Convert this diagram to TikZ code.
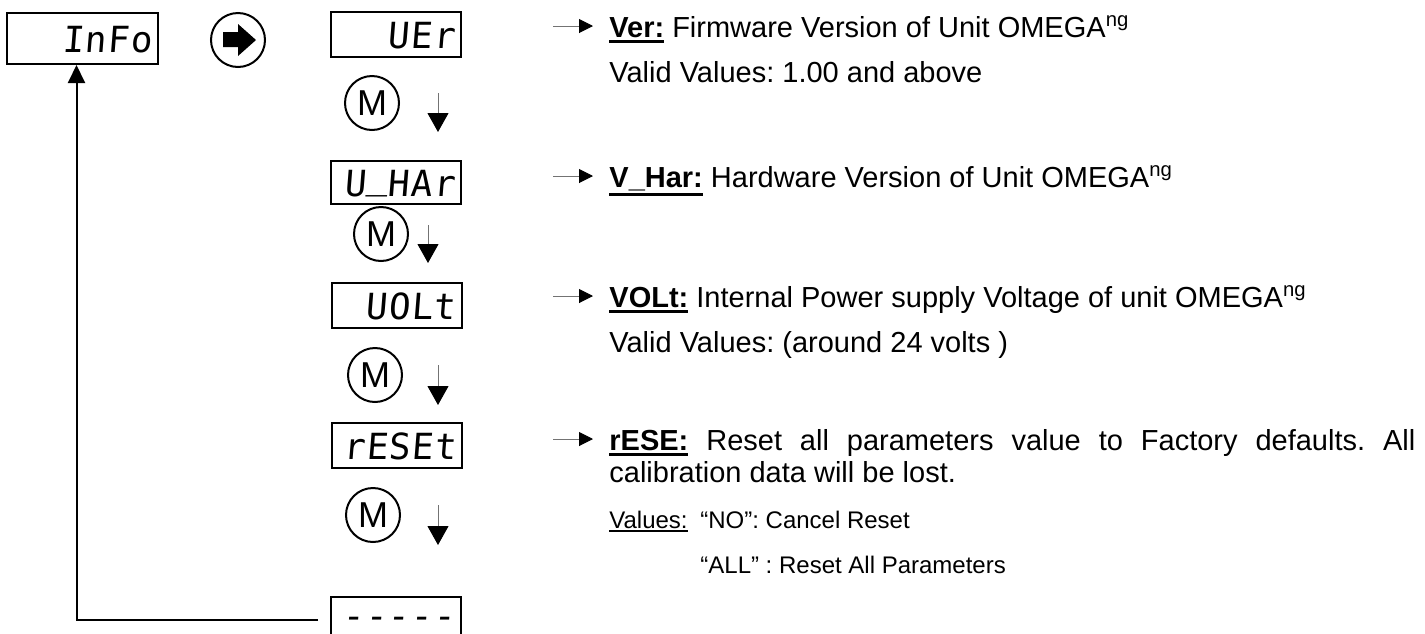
\documentclass[tikz,border=0pt]{standalone}
\usepackage{fontspec}
\setmainfont{Liberation Sans}
\newfontfamily\segfont[FakeSlant=0.08,LetterSpace=3,Ligatures=TeXOff]{DejaVu Sans Mono}
\usetikzlibrary{arrows.meta}
\tolerance=9999
\hyphenpenalty=10000
\frenchspacing

% underlines for the item names
\newcommand{\thickul}[1]{\leavevmode\vtop{\hbox{#1}\kern1.2pt\hrule height 1.6pt}}
\newcommand{\thinul}[1]{\leavevmode\vtop{\hbox{#1}\kern1pt\hrule height 0.7pt}}

\begin{document}
\begin{tikzpicture}[x=0.5pt, y=-0.5pt,
  disp/.style={draw, line width=1pt, inner xsep=3pt, inner ysep=0pt, text width=59pt, align=right,
    minimum height=22.5pt, text height=13.5pt, text depth=0pt, font=\segfont\fontsize{18}{18}\selectfont},
  btn/.style={draw, circle, line width=1pt, minimum size=27pt, inner sep=0pt, font=\fontsize{18}{18}\selectfont},
  down/.style={-{Triangle[width=10.5pt,length=9.5pt,color=black]}, line width=0.5pt, draw=black!55},
  ptr/.style={-{Triangle[width=7pt,length=7pt,color=black]}, line width=0.5pt, draw=black!55},
  back/.style={-{Triangle[width=8.5pt,length=9pt]}, line width=1pt},
  txt/.style={anchor=base west, inner sep=0pt, font=\fontsize{14.5}{16}\selectfont},
  small/.style={anchor=base west, inner sep=0pt, font=\fontsize{12}{14}\selectfont}]
\useasboundingbox (0,0) rectangle (1425,633);

% Menu entry and the enter button
\node[disp, text width=69.5pt, minimum height=25.5pt] (info) at (82.5,38.5) {InFo};
\node[btn] (go) at (238,40) {};
\fill (223,32) -- (238,32) -- (238,24) -- (256,40) -- (238,56) -- (238,47) -- (223,47) -- cycle;

% Sub menu column
\node[disp] (ver) at (396,34.5) {UEr};
\node[btn] (m1) at (372,103) {M};
\draw[down] (438,93) -- (438,132);
\node[disp, minimum height=21.5pt] (vhar) at (396,182.5) {U\raisebox{4pt}{\_}HAr};
\node[btn] (m2) at (381,234) {M};
\draw[down] (428,225) -- (428,263);
\node[disp] (volt) at (396.5,305.5) {UOLt};
\node[btn] (m3) at (375,375) {M};
\draw[down] (438,365) -- (438,405);
\node[disp] (reset) at (397,445.5) {rESEt};
\node[btn] (m4) at (373,515) {M};
\draw[down] (438,505) -- (438,545);
\node[disp, text height=11pt, text depth=2.5pt] (dash) at (396,619.5) {-----};

% back to the menu entry
\draw[back] ([xshift=-6pt]dash.west) -| ([xshift=-3pt]info.south);

% Descriptions
\draw[ptr] (553,26) -- (593,26);
\node[txt] (t1) at (609,37) {\thickul{\textbf{Ver:}} Firmware Version of Unit OMEGA\textsuperscript{ng}};
\node[txt] (t2) at (609,82) {Valid Values: 1.00 and above};
\draw[ptr] (553,176) -- (593,176);
\node[txt] (t3) at (609,187) {\thickul{\textbf{V\_Har:}} Hardware Version of Unit OMEGA\textsuperscript{ng}};
\draw[ptr] (553,296) -- (593,296);
\node[txt] (t4) at (609,307) {\thickul{\textbf{VOLt:}} Internal Power supply Voltage of unit OMEGA\textsuperscript{ng}};
\node[txt] (t5) at (609,352) {Valid Values: (around 24 volts )};
\draw[ptr] (553,439) -- (593,439);
\node[txt, text width=403pt, align=justify] (t6) at (609,450) {\thickul{\textbf{rESE:}} Reset all parameters value to Factory defaults. All calibration data will be lost.};
\node[small] (t7) at (609,528) {\thinul{Values:}};
\node[small] (t8) at (700,528) {“NO”: Cancel Reset};
\node[small] (t9) at (700,573) {“ALL” : Reset All Parameters};
\end{tikzpicture}
\end{document}
